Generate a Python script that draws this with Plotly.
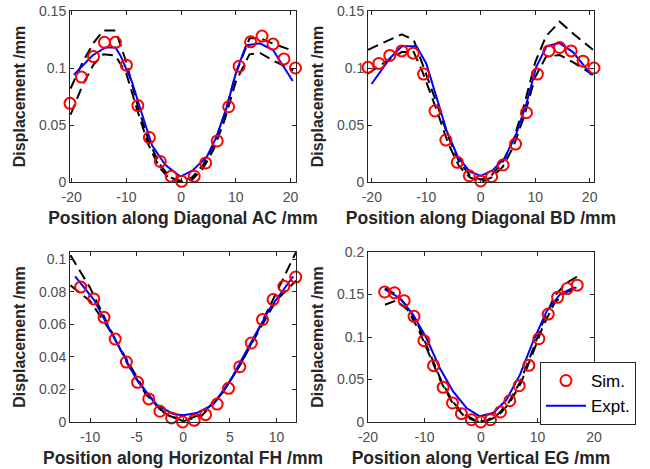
import plotly.graph_objects as go
from plotly.subplots import make_subplots

# ---------------- Panel 1: Diagonal AC ----------------
sim_x1 = [-20.3, -18.2, -16.0, -14.0, -12.0, -10.0, -7.9, -5.8, -3.8, -1.8, 0.1,
          2.4, 4.5, 6.6, 8.7, 10.6, 12.7, 14.8, 16.8, 18.8, 20.9]
sim_y1 = [0.069, 0.092, 0.110, 0.1225, 0.1225, 0.1025, 0.067, 0.039, 0.018, 0.005, 0.0006,
          0.005, 0.0167, 0.036, 0.066, 0.1015, 0.123, 0.128, 0.121, 0.108, 0.100]
exp_x1 = [-19.6, -16.2, -13.8, -12.0, -11.1, -9.0, -7.1, -5.3, -2.9, -0.5, 0.0,
          2.2, 4.7, 6.5, 8.3, 10.1, 11.9, 14.4, 16.8, 20.4]
exp_y1 = [0.094, 0.111, 0.118, 0.118, 0.111, 0.088, 0.059, 0.032, 0.015, 0.006, 0.005,
          0.0105, 0.022, 0.040, 0.065, 0.097, 0.120, 0.1216, 0.1158, 0.0886]
bnd_x1 = [-20.2, -18, -16, -14.2, -12, -10, -8, -6, -4, -2, 0, 2, 4, 6, 8, 10, 12.5, 14.5, 17, 20.5]
up_y1 = [0.082, 0.105, 0.122, 0.133, 0.133, 0.105, 0.068, 0.037, 0.016, 0.004, 0.001,
         0.004, 0.015, 0.033, 0.060, 0.095, 0.126, 0.126, 0.121, 0.115]
lo_y1 = [0.059, 0.085, 0.103, 0.112, 0.111, 0.095, 0.063, 0.033, 0.013, 0.002, 0.0,
         0.002, 0.012, 0.029, 0.055, 0.088, 0.112, 0.113, 0.106, 0.098]

# ---------------- Panel 2: Diagonal BD ----------------
sim_x2 = [-20.7, -18.7, -16.7, -14.5, -12.4, -10.5, -8.4, -6.4, -4.3, -2.1, 0.0,
          2.0, 4.1, 6.4, 8.4, 10.4, 12.5, 14.5, 16.6, 18.8, 20.8]
sim_y2 = [0.1006, 0.104, 0.111, 0.115, 0.113, 0.0947, 0.0623, 0.0368, 0.0173, 0.0055, 0.0009,
          0.0047, 0.0149, 0.0333, 0.0608, 0.0947, 0.115, 0.118, 0.115, 0.106, 0.100]
exp_x2 = [-20.05, -16.7, -14.5, -11.8, -10.0, -8.1, -6.3, -4.2, -2.0, 0.0,
          2.25, 4.4, 6.55, 8.4, 10.2, 12.1, 14.4, 16.95, 20.3]
exp_y2 = [0.086, 0.1085, 0.119, 0.119, 0.104, 0.075, 0.0456, 0.022, 0.009, 0.0053,
          0.0105, 0.021, 0.0427, 0.069, 0.101, 0.119, 0.122, 0.114, 0.094]
bnd_x2 = [-20.7, -17.5, -14.5, -12.3, -10.8, -8, -6, -4, -2, 0, 2, 4, 6, 8, 10, 12, 14.5, 17, 20.6]
up_y2 = [0.116, 0.123, 0.1295, 0.1246, 0.1055, 0.068, 0.040, 0.018, 0.006, 0.002,
         0.006, 0.017, 0.037, 0.068, 0.105, 0.128, 0.1406, 0.130, 0.116]
lo_y2 = [0.095, 0.1055, 0.114, 0.114, 0.098, 0.062, 0.034, 0.014, 0.004, 0.0,
         0.004, 0.013, 0.031, 0.058, 0.092, 0.110, 0.1114, 0.105, 0.094]

# ---------------- Panel 3: Horizontal FH ----------------
sim_x3 = [-12.2, -11.0, -9.6, -8.5, -7.3, -6.1, -4.9, -3.7, -2.5, -1.25, -0.07,
          1.18, 2.4, 3.64, 4.86, 6.07, 7.3, 8.5, 9.64, 10.8, 12.07]
sim_y3 = [0.088, 0.083, 0.0757, 0.0644, 0.051, 0.0369, 0.0244, 0.0142, 0.0066, 0.0025, 0.0,
          0.001, 0.0045, 0.011, 0.0207, 0.034, 0.0486, 0.063, 0.0753, 0.0835, 0.0892]
exp_x3 = [-11.6, -9.6, -7.3, -5.0, -2.86, -1.07, 0.0, 1.43, 3.2, 5.0, 7.14, 9.3, 11.8]
exp_y3 = [0.0896, 0.0753, 0.0507, 0.026, 0.0107, 0.0049, 0.0041, 0.0055, 0.0107, 0.025,
          0.0476, 0.070, 0.0896]
bnd_x3 = [-12.1, -10, -8, -6, -4, -2, 0, 2, 4, 6, 8, 10, 12.1]
up_y3 = [0.1026, 0.0826, 0.059, 0.036, 0.017, 0.005, 0.0005, 0.004, 0.016, 0.034, 0.056, 0.080, 0.1045]
lo_y3 = [0.0841, 0.0745, 0.0575, 0.038, 0.018, 0.0055, 0.0005, 0.005, 0.0165, 0.034, 0.055, 0.075, 0.087]

# ---------------- Panel 4: Vertical EG ----------------
sim_x4 = [-17.05, -15.3, -13.6, -11.85, -10.1, -8.4, -6.7, -5.05, -3.46, -1.69, -0.03,
          1.68, 3.45, 5.1, 6.76, 8.47, 10.24, 11.9, 13.55, 15.26, 17.03]
sim_y4 = [0.153, 0.152, 0.1427, 0.1243, 0.0957, 0.0663, 0.0408, 0.0224, 0.0098, 0.0027, 0.0,
          0.0027, 0.0118, 0.025, 0.0427, 0.0667, 0.098, 0.127, 0.1467, 0.157, 0.161]
exp_x4 = [-17.05, -14.4, -12.0, -9.66, -7.3, -4.94, -2.57, -0.2, 2.15, 4.5, 6.9, 9.24,
          11.6, 13.96, 16.3, 16.9]
exp_y4 = [0.156, 0.146, 0.126, 0.0988, 0.0635, 0.036, 0.0165, 0.0067, 0.0106, 0.026,
          0.0557, 0.095, 0.130, 0.150, 0.158, 0.158]
bnd_x4 = [-17, -15, -13, -11, -9, -7, -5, -3, -1, 0, 1, 3, 5, 7, 9, 11, 13, 15, 17]
up_y4 = [0.1576, 0.150, 0.136, 0.112, 0.080, 0.048, 0.024, 0.009, 0.002, 0.0008,
         0.002, 0.009, 0.024, 0.048, 0.082, 0.118, 0.148, 0.163, 0.171]
lo_y4 = [0.138, 0.143, 0.132, 0.108, 0.077, 0.046, 0.022, 0.007, 0.001, 0.0,
         0.001, 0.007, 0.022, 0.045, 0.078, 0.113, 0.140, 0.153, 0.157]

x_titles = ["Position along Diagonal AC /mm", "Position along Diagonal BD /mm",
            "Position along Horizontal FH /mm", "Position along Vertical EG /mm"]
y_title = "Displacement /mm"
x_ranges = [[-20.3, 21.0], [-20.7, 20.8], [-12.15, 12.1], [-20, 20]]
y_ranges = [[0, 0.15], [0, 0.15], [0, 0.1046], [0, 0.2]]
x_ticks = [[-20, -10, 0, 10, 20], [-20, -10, 0, 10, 20], [-10, -5, 0, 5, 10], [-20, -10, 0, 10, 20]]
y_ticks = [[0, 0.05, 0.1, 0.15], [0, 0.05, 0.1, 0.15],
           [0, 0.02, 0.04, 0.06, 0.08, 0.1], [0, 0.05, 0.1, 0.15, 0.2]]

panels = [
    (sim_x1, sim_y1, exp_x1, exp_y1, bnd_x1, up_y1, lo_y1),
    (sim_x2, sim_y2, exp_x2, exp_y2, bnd_x2, up_y2, lo_y2),
    (sim_x3, sim_y3, exp_x3, exp_y3, bnd_x3, up_y3, lo_y3),
    (sim_x4, sim_y4, exp_x4, exp_y4, bnd_x4, up_y4, lo_y4),
]

W, H = 650, 469
# pixel boxes (left, top, right, bottom)
boxes = [(70, 11, 296, 182), (368, 11, 594, 182), (70, 252, 296, 422), (368, 252, 594, 422)]

fig = make_subplots(rows=2, cols=2)
FONT = "Liberation Sans, Arial, sans-serif"
dash = "11px,6px"

for i, (sx, sy, ex, ey, bx, uy, ly) in enumerate(panels):
    r, c = i // 2 + 1, i % 2 + 1
    last = (i == 3)
    fig.add_trace(go.Scatter(x=bx, y=uy, mode="lines", line=dict(color="black", width=2, dash=dash),
                             showlegend=False, hoverinfo="skip"), row=r, col=c)
    fig.add_trace(go.Scatter(x=bx, y=ly, mode="lines", line=dict(color="black", width=2, dash=dash),
                             showlegend=False, hoverinfo="skip"), row=r, col=c)
    fig.add_trace(go.Scatter(x=ex, y=ey, mode="lines", line=dict(color="#0000FF", width=2),
                             name="Expt.", showlegend=last, legendrank=2), row=r, col=c)
    fig.add_trace(go.Scatter(x=sx, y=sy, mode="markers",
                             marker=dict(symbol="circle-open", size=11, color="#FF0000",
                                         line=dict(width=2, color="#FF0000")),
                             name="Sim.", showlegend=last, legendrank=1, cliponaxis=False), row=r, col=c)

    L, T, R, B = boxes[i]
    axis_common = dict(showline=True, linecolor="#262626", linewidth=1, mirror="allticks",
                       ticks="inside", ticklen=4, tickcolor="#262626", showgrid=False, zeroline=False,
                       automargin=False,
                       tickfont=dict(family=FONT, size=14, color="#4d4d4d"))
    fig.update_xaxes(domain=[L / W, R / W], range=x_ranges[i], tickvals=x_ticks[i],
                     ticktext=[str(v) for v in x_ticks[i]], ticklabelstandoff=2,
                     title=dict(text="<b>" + x_titles[i] + "</b>", standoff=7,
                                font=dict(family=FONT, size=17.5, color="#262626")),
                     **axis_common, row=r, col=c)
    fig.update_yaxes(domain=[1 - B / H, 1 - T / H], range=y_ranges[i], tickvals=y_ticks[i],
                     ticktext=[("%g" % v) for v in y_ticks[i]],
                     title=dict(text="<b>" + y_title + "</b>", standoff=9,
                                font=dict(family=FONT, size=16, color="#262626")),
                     **axis_common, row=r, col=c)

fig.update_layout(
    width=W, height=H,
    margin=dict(l=0, r=0, t=0, b=0, autoexpand=False),
    paper_bgcolor="white", plot_bgcolor="white",
    font=dict(family=FONT, color="#262626"),
    legend=dict(x=540 / W, y=1 - 362 / H, xanchor="left", yanchor="top",
                bordercolor="#262626", borderwidth=1, bgcolor="white",
                font=dict(family=FONT, size=17, color="#000000"),
                tracegroupgap=0, itemwidth=40),
)

fig.write_html("out.html")
